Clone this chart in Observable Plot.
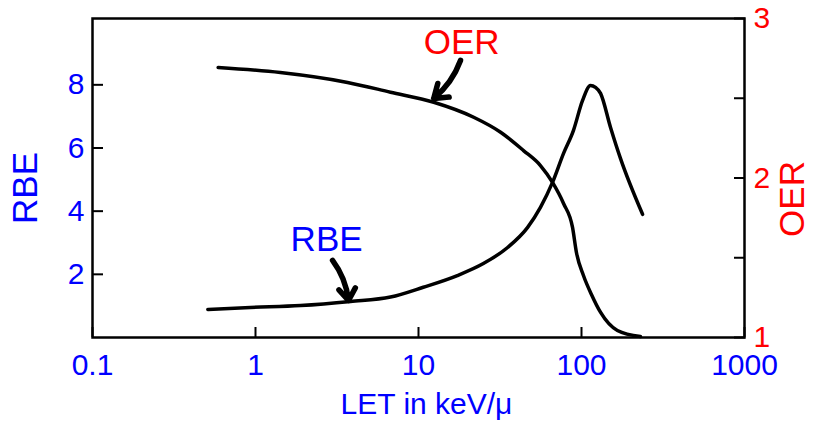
<!DOCTYPE html>
<html><head><meta charset="utf-8">
<script src="https://cdn.jsdelivr.net/npm/d3@7"></script>
<script src="https://cdn.jsdelivr.net/npm/@observablehq/plot@0.6"></script>
<style>body{margin:0;background:#fff;}</style>
</head><body><div id="chart"></div>
<script>
// RBE curve (left axis)
const rbeLET    = [0.51, 0.93, 1.89, 3.83, 6.73, 10.7, 17.3, 25.0, 35.2, 46.6, 56.0, 66.4, 77.6, 89.3, 101.4, 113.5, 121.9, 130.9, 150.7, 173.4, 237];
const rbeValues = [0.89, 0.95, 1.01, 1.14, 1.28, 1.59, 1.96, 2.34, 2.85, 3.48, 4.12, 4.91, 5.83, 6.56, 7.50, 7.98, 7.92, 7.73, 6.65, 5.67, 3.90];
// OER curve (right axis)
const oerLET    = [0.59, 1.42, 3.67, 6.73, 12.4, 21.8, 31.9, 44.1, 56.0, 66.4, 77.6, 88.1, 93.1, 102.8, 115.1, 131, 166, 230];
const oerValues = [2.693, 2.661, 2.599, 2.538, 2.475, 2.381, 2.287, 2.172, 2.078, 1.972, 1.840, 1.690, 1.533, 1.389, 1.270, 1.157, 1.044, 1.006];
// ticks
const xTicks = [0.1, 1, 10, 100, 1000];
const rbeTicks = [2, 4, 6, 8];
const oerTicks = [1, 1.5, 2, 2.5, 3];
const oerLabelTicks = [1, 2, 3];
// annotations
const oerNote = {text: "OER", let: 18.4, oer: 2.85, arrowFrom: [18.1, 2.737], arrowTo: [12.4, 2.499]};
const rbeNote = {text: "RBE", let: 2.73, rbe: 3.09, arrowFrom: [2.97, 2.44], arrowTo: [3.72, 1.17]};

const rbeMax = 10.1;
const toY = o => (o - 1) / 2 * rbeMax;
const BLUE = "#0000ff", RED = "#ff0000";
const FONT = "'Liberation Sans', Arial, sans-serif";

const rbeData = rbeLET.map((l, i) => ({let: l, y: rbeValues[i]}));
const oerData = oerLET.map((l, i) => ({let: l, y: toY(oerValues[i])}));
const arrows = [
  {x1: oerNote.arrowFrom[0], y1: toY(oerNote.arrowFrom[1]), x2: oerNote.arrowTo[0], y2: toY(oerNote.arrowTo[1])},
  {x1: rbeNote.arrowFrom[0], y1: rbeNote.arrowFrom[1], x2: rbeNote.arrowTo[0], y2: rbeNote.arrowTo[1]}
];
const notes = [
  {x: oerNote.let, y: toY(oerNote.oer), text: oerNote.text, c: RED},
  {x: rbeNote.let, y: rbeNote.rbe, text: rbeNote.text, c: BLUE}
];

const chart = Plot.plot({
  width: 814, height: 423,
  marginLeft: 92, marginRight: 70, marginTop: 18, marginBottom: 86,
  style: {fontFamily: FONT, background: "white", overflow: "visible"},
  x: {type: "log", domain: [0.1, 1000]},
  y: {domain: [0, rbeMax]},
  marks: [
    Plot.axisX(xTicks, {anchor: "bottom", tickSize: -10, tickPadding: 26, stroke: "black", strokeWidth: 2, fill: BLUE, fontSize: 30, tickFormat: d => String(d), label: null}),
    Plot.axisY(rbeTicks, {anchor: "left", tickSize: -11, tickPadding: 19, stroke: "black", strokeWidth: 2, fill: BLUE, fontSize: 30, tickFormat: d => String(d), label: null}),
    Plot.axisY(oerTicks.map(toY), {anchor: "right", tickSize: -11, tickPadding: 20, stroke: "black", strokeWidth: 2, fill: "none", label: null}),
    Plot.axisY(oerLabelTicks.map(toY), {anchor: "right", tickSize: 0, tickPadding: 9, stroke: "none", fill: RED, fontSize: 30, tickFormat: (d, i) => String(oerLabelTicks[i]), label: null}),
    Plot.frame({stroke: "black", strokeWidth: 2.5}),
    Plot.line(rbeData, {x: "let", y: "y", curve: "monotone-x", stroke: "black", strokeWidth: 3.5}),
    Plot.line(oerData, {x: "let", y: "y", curve: "monotone-x", stroke: "black", strokeWidth: 3.5}),
    Plot.arrow(arrows, {x1: "x1", y1: "y1", x2: "x2", y2: "y2", bend: 15, stroke: "black", strokeWidth: 5.5, headLength: 8, headAngle: 70}),
    Plot.text(notes, {x: "x", y: "y", text: "text", fill: "c", fontSize: 35}),
    Plot.text(["RBE"], {frameAnchor: "left", textAnchor: "middle", lineAnchor: "middle", rotate: -90, dx: -67, dy: 10, fill: BLUE, fontSize: 35}),
    Plot.text(["OER"], {frameAnchor: "right", textAnchor: "middle", lineAnchor: "middle", rotate: -90, dx: 48, dy: 21, fill: RED, fontSize: 35}),
    Plot.text(["LET in keV/μ"], {frameAnchor: "bottom", textAnchor: "middle", lineAnchor: "middle", dx: 8, dy: 67, fill: BLUE, fontSize: 30})
  ]
});
document.getElementById("chart").appendChild(chart);
</script>
</body></html>
